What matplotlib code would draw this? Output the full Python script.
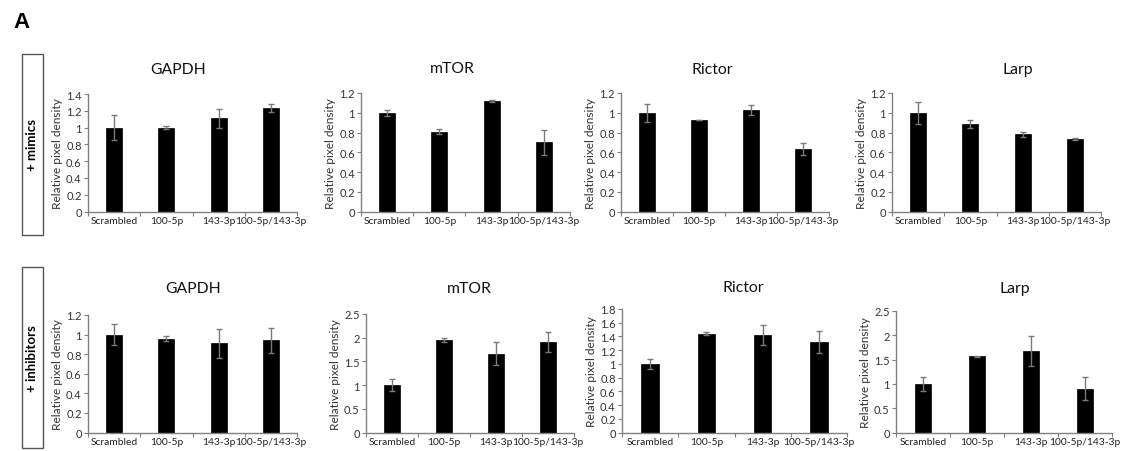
import matplotlib
matplotlib.use("Agg")
import matplotlib.pyplot as plt
from matplotlib.patches import Rectangle
from matplotlib.ticker import FuncFormatter
from matplotlib.transforms import ScaledTranslation
import numpy as np

plt.rcParams['font.family'] = ['Lato', 'DejaVu Sans']

categories = ["Scrambled", "100-5p", "143-3p", "100-5p/143-3p"]
titles = ["GAPDH", "mTOR", "Rictor", "Larp"]
row_labels = ["+ mimics", "+ inhibitors"]

# + mimics
mim_gapdh = [1.00, 1.00, 1.11, 1.23]
mim_gapdh_err = [0.15, 0.02, 0.11, 0.05]
mim_mtor = [1.00, 0.81, 1.12, 0.70]
mim_mtor_err = [0.03, 0.03, 0.01, 0.13]
mim_rictor = [1.00, 0.93, 1.03, 0.63]
mim_rictor_err = [0.09, 0.00, 0.05, 0.06]
mim_larp = [1.00, 0.89, 0.78, 0.73]
mim_larp_err = [0.11, 0.04, 0.03, 0.01]

# + inhibitors
inh_gapdh = [1.00, 0.96, 0.91, 0.94]
inh_gapdh_err = [0.11, 0.03, 0.15, 0.13]
inh_mtor = [1.00, 1.95, 1.66, 1.91]
inh_mtor_err = [0.13, 0.04, 0.24, 0.21]
inh_rictor = [1.00, 1.44, 1.42, 1.32]
inh_rictor_err = [0.07, 0.02, 0.14, 0.16]
inh_larp = [1.00, 1.57, 1.67, 0.90]
inh_larp_err = [0.15, 0.01, 0.31, 0.24]

# y-axis settings (max, step)
mim_ylims = [(1.4, 0.2), (1.2, 0.2), (1.2, 0.2), (1.2, 0.2)]
inh_ylims = [(1.2, 0.2), (2.5, 0.5), (1.8, 0.2), (2.5, 0.5)]

W, H = 1125, 452
fig = plt.figure(figsize=(W / 100, H / 100), dpi=100)

def px_axes(x0, x1, ybot, ytop):
    return fig.add_axes([x0 / W, 1 - ybot / H, (x1 - x0) / W, (ybot - ytop) / H])

top_x = [(88, 297), (361, 570), (621, 829), (892, 1101)]
bot_x = [(88, 297), (366, 574), (622, 847), (896, 1112)]
top_tops = [95, 94, 94, 94]
bot_tops = [316, 315, 310, 312]
top_title_pos = [(178, 70), (452, 69), (712, 70), (1018, 70)]
bot_title_pos = [(193, 289), (469, 289), (743, 288), (1015, 289)]
label_shift_px = [0, 0.5, -3, 5]

rows = [
    (list(zip([mim_gapdh, mim_mtor, mim_rictor, mim_larp],
              [mim_gapdh_err, mim_mtor_err, mim_rictor_err, mim_larp_err])),
     mim_ylims, top_x, top_tops, 212.5, top_title_pos),
    (list(zip([inh_gapdh, inh_mtor, inh_rictor, inh_larp],
              [inh_gapdh_err, inh_mtor_err, inh_rictor_err, inh_larp_err])),
     inh_ylims, bot_x, bot_tops, 433.5, bot_title_pos),
]

spine_col = "#808080"
fmt = FuncFormatter(lambda v, p: ("%g" % round(v, 2)))

for data, ylims, xs, tops, ybot, tpos in rows:
    for i, ((vals, errs), (ymax, step), (x0, x1), ytop, (tx, ty)) in enumerate(
            zip(data, ylims, xs, tops, tpos)):
        ax = px_axes(x0, x1, ybot, ytop)
        pos = np.arange(len(categories)) + 0.5
        ax.bar(pos, vals, width=0.31, color="black", edgecolor="black", linewidth=0.5, zorder=2)
        ax.errorbar(pos, vals, yerr=errs, fmt="none", ecolor="#7a7a7a",
                    elinewidth=1.0, capsize=2.2, capthick=1.0, zorder=3)
        ax.set_xlim(0, len(categories))
        ax.set_ylim(0, ymax)
        ax.set_yticks(np.arange(0, ymax + step / 2, step))
        ax.yaxis.set_major_formatter(fmt)
        ax.set_xticks(np.arange(0, len(categories) + 1))
        ax.set_xticklabels([])
        ax.set_xticks(pos, minor=True)
        labs = ax.set_xticklabels(categories, minor=True, fontsize=7.4, color="#222222")
        for lab, dx in zip(labs, label_shift_px):
            lab.set_transform(lab.get_transform() +
                              ScaledTranslation(dx / 100, 0, fig.dpi_scale_trans))
        ax.tick_params(axis="x", which="minor", length=0, pad=3)
        ax.tick_params(axis="x", which="major", length=3, color=spine_col, direction="out")
        ax.tick_params(axis="y", length=3, color=spine_col, labelsize=8, pad=1.5,
                       labelcolor="#333333")
        for s in ["top", "right"]:
            ax.spines[s].set_visible(False)
        for s in ["left", "bottom"]:
            ax.spines[s].set_color(spine_col)
            ax.spines[s].set_linewidth(1.0)
        ax.set_ylabel("Relative pixel density", fontsize=8.6, color="#333333", labelpad=2)
        fig.text(tx / W, 1 - ty / H, titles[i], fontsize=11.3, color="#111111",
                 ha="center", va="center")

# panel letter
fig.text(13.5 / W, 1 - 28 / H, "A", fontsize=16, fontweight="bold", ha="left",
         va="baseline", family=["Liberation Sans", "DejaVu Sans"])

# row label boxes
boxes = [(22, 43, 55, 236), (22, 43, 268, 449)]
for (bx0, bx1, by0, by1), lab in zip(boxes, row_labels):
    fig.patches.append(Rectangle((bx0 / W, 1 - by1 / H), (bx1 - bx0) / W, (by1 - by0) / H,
                                 transform=fig.transFigure, fill=False,
                                 edgecolor="#555555", linewidth=1.0))
    fig.text((bx0 + bx1) / 2 / W, 1 - (by0 + by1) / 2 / H, lab, rotation=90,
             ha="center", va="center", fontsize=9.5, fontweight="bold")

fig.savefig("out.png", dpi=100)
